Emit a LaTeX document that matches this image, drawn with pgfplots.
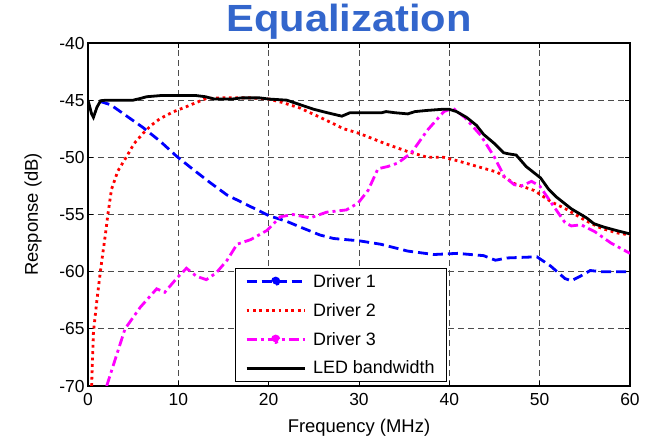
\documentclass[border=0pt]{standalone}
\usepackage{fontspec}
\setmainfont{Liberation Sans}
\usepackage{graphicx}
\usepackage{pgfplots}
\pgfplotsset{compat=1.18}
\definecolor{titleblue}{RGB}{51,102,204}
\definecolor{mblue}{RGB}{0,0,255}
\definecolor{mred}{RGB}{255,0,0}
\definecolor{mmag}{RGB}{255,0,255}
\pgfplotsset{
 linelegend/.style={legend image code/.code={\draw[##1] (0bp,0bp) -- (58bp,0bp);}},
 dotlegend/.style={legend image code/.code={\draw[##1] (0bp,0bp) -- (58bp,0bp); \fill[#1] (29bp,0bp) circle (3.2bp);}},
}
\begin{document}
\begin{tikzpicture}
\begin{axis}[name=main, scale only axis, width=542bp, height=343bp,
 xmin=0, xmax=60, ymin=-70, ymax=-40,
 xtick={0,10,20,30,40,50,60}, xticklabels={0,10,20,30,40,50,60},
 ytick={-70,-65,-60,-55,-50,-45,-40}, yticklabels={-70,-65,-60,-55,-50,-45,-40},
 tick align=inside, major tick length=5bp,
 every tick/.style={black, line width=0.8bp},
 axis line style={line width=1.3bp},
 grid=major, major grid style={black!70, line width=0.8bp, dash pattern=on 6bp off 4bp},
 tick label style={font=\fontsize{17.5}{20}\selectfont},
 xticklabel style={yshift=-4bp},
 label style={font=\fontsize{18.5}{22}\selectfont},
 xlabel={Frequency (MHz)}, ylabel={Response (dB)},
 xlabel style={at={(axis description cs:0.5,-0.137)}, anchor=base},
 ylabel style={at={(axis description cs:-0.085,0.5)}, anchor=south, inner sep=0pt},
 title={\scalebox{1.1}[1]{Equalization}},
 title style={at={(axis description cs:0.4815,1)}, anchor=base, yshift=6bp, font=\bfseries\fontsize{38}{40}\selectfont, text=titleblue, inner sep=0pt},
 legend style={at={(0.271,0.012)}, anchor=south west, draw=black, line width=0.8bp, fill=white, font=\fontsize{18}{21}\selectfont, inner xsep=10bp, inner ysep=4bp, row sep=10.5bp, /tikz/every odd column/.append style={column sep=5bp}},
 legend cell align=left,
]
\addplot[mblue, line width=2.8bp, dash pattern=on 10bp off 5bp, dotlegend=mblue]
 coordinates {(1.3,-45.1) (2.5,-45.4) (4.3,-46.4) (6.1,-47.4) (8.0,-48.6) (9.8,-49.9) (11.7,-51.1) (13.5,-52.2) (15.4,-53.3) (17.2,-54.0) (19.0,-54.7) (20,-55.1) (22,-55.6) (23.5,-56.1) (25.7,-56.8) (27.2,-57.1) (30,-57.3) (32.4,-57.6) (35.4,-58.2) (38.3,-58.5) (40.9,-58.4) (43.8,-58.6) (45.1,-59.0) (46.4,-58.8) (49.7,-58.7) (51.2,-59.5) (52.8,-60.6) (53.5,-60.8) (54.5,-60.4) (55.6,-59.9) (56.8,-60.0) (60,-60.0)};
\addlegendentry{Driver 1}
\addplot[mred, line width=2.8bp, dash pattern=on 2.8bp off 3.6bp, linelegend]
 coordinates {(0.4,-70) (0.6,-65.3) (1.0,-62.4) (1.4,-59.8) (1.95,-56.6) (2.2,-55.0) (2.6,-52.8) (3.3,-51.2) (4.3,-49.9) (5.1,-48.8) (6.1,-47.9) (7,-47.2) (8,-46.6) (9,-46.2) (9.8,-45.9) (10.8,-45.6) (11.7,-45.3) (13.1,-44.85) (15,-44.8) (18,-44.8) (20,-44.9) (21.5,-45.2) (23.5,-45.7) (25.7,-46.5) (28.3,-47.5) (30,-47.9) (32.9,-48.8) (35.4,-49.5) (37.6,-50.0) (39.4,-50.0) (40.9,-50.3) (43.1,-50.8) (45.3,-51.3) (47.2,-52.3) (49.4,-52.9) (51.3,-53.9) (53.1,-54.6) (55,-55.5) (56.8,-56.2) (58.5,-56.6) (60,-56.8)};
\addlegendentry{Driver 2}
\addplot[mmag, line width=2.8bp, dash pattern=on 10bp off 4bp on 3bp off 4bp, dotlegend=mmag]
 coordinates {(2.07,-70) (3.0,-67.7) (4.1,-65.0) (5.8,-63.1) (7.6,-61.5) (8.5,-61.8) (9.8,-60.6) (10.9,-59.7) (12.0,-60.4) (13.1,-60.7) (14.2,-60.1) (15.4,-59.0) (16.5,-57.6) (18.0,-57.2) (19.8,-56.4) (21.3,-55.2) (22.7,-55.0) (24.6,-55.3) (26.4,-54.8) (28.6,-54.6) (29.9,-54.0) (31,-52.9) (32.1,-51.0) (33.2,-50.8) (34.3,-50.5) (35.8,-49.6) (37.6,-47.6) (39.4,-46.0) (40.4,-45.7) (41.7,-46.5) (43.5,-48.1) (45,-50.0) (46.1,-51.7) (47.2,-52.4) (48,-52.5) (49.1,-52.1) (50,-52.5) (51.3,-54.0) (52.8,-55.7) (53.5,-56.0) (54.6,-55.9) (56.1,-56.5) (57.9,-57.5) (60,-58.4)};
\addlegendentry{Driver 3}
\addplot[black, line width=2.8bp, linelegend]
 coordinates {(0,-45) (0.4,-46.2) (0.6,-46.5) (1.0,-45.6) (1.4,-45.05) (2,-45.0) (5,-45.0) (5.8,-44.85) (6.5,-44.7) (8,-44.6) (12,-44.6) (13,-44.7) (14,-44.9) (16,-44.9) (17,-44.8) (19,-44.8) (20,-44.9) (22,-45.0) (23.5,-45.4) (25,-45.8) (26.5,-46.1) (28.1,-46.4) (29,-46.1) (31,-46.1) (32.5,-46.1) (33,-46.0) (34,-46.1) (35.4,-46.2) (36.2,-46.0) (37.5,-45.9) (39.2,-45.8) (40,-45.8) (40.8,-46.0) (41.9,-46.5) (43,-47.2) (43.8,-48.0) (45,-48.8) (46,-49.6) (46.6,-49.7) (47.4,-49.8) (48.5,-50.8) (50.1,-51.8) (51,-52.8) (51.9,-53.5) (53.5,-54.5) (55.2,-55.3) (56,-55.8) (57.1,-56.1) (58.5,-56.4) (60,-56.7)};
\addlegendentry{LED bandwidth}
\end{axis}
\pgfresetboundingbox
\path (main.south west) ++(-88bp,-52bp) rectangle ++(652bp,438bp);
\end{tikzpicture}
\end{document}
